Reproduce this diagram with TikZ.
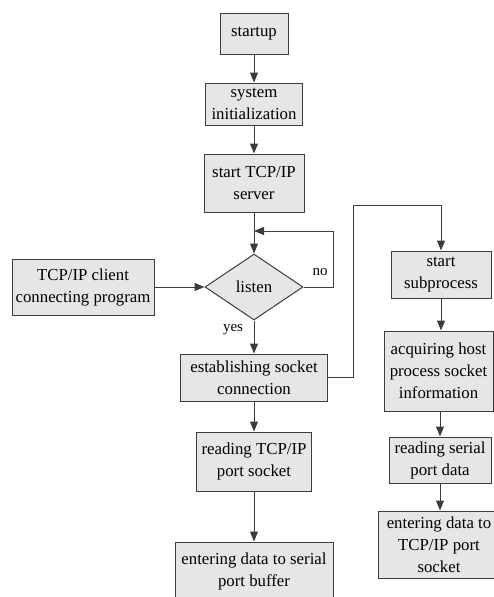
\documentclass[tikz,border=0pt]{standalone}
\usepackage{fontspec}
\setmainfont{Liberation Serif}
\usetikzlibrary{arrows.meta,shapes.geometric}
\definecolor{boxfill}{HTML}{E6E6E6}
\definecolor{boxline}{HTML}{3C3C3C}
\begin{document}
\begin{tikzpicture}[x=1pt,y=-1pt,
  box/.style={draw=boxline,fill=boxfill,line width=1pt,inner sep=0pt,align=center,
              font=\fontsize{16.8}{22}\selectfont},
  decide/.style={diamond,draw=boxline,fill=boxfill,line width=1pt,inner sep=0pt,
              font=\fontsize{16.8}{22}\selectfont},
  link/.style={draw=boxline,line width=1pt},
  arr/.style={link,-{Triangle[length=10pt,width=8pt]}},
  lbl/.style={font=\fontsize{15}{18}\selectfont,inner sep=0pt}]
\useasboundingbox (0,0) rectangle (494,597);

% left column
\node[box,minimum width=68pt,minimum height=41pt] (startup) at (254,33.5) {startup};
\node[box,minimum width=97pt,minimum height=42pt] (init) at (254,104) {system\\initialization};
\node[box,minimum width=100pt,minimum height=58pt] (server) at (254,183) {start TCP/IP\\server};
\node[decide,minimum width=98pt,minimum height=66pt] (listen) at (254,287) {listen};
\node[box,minimum width=142pt,minimum height=56pt] (client) at (83,287) {TCP/IP client\\connecting program};
\node[box,minimum width=147pt,minimum height=47pt] (est) at (254,377.5) {establishing socket\\connection};
\node[box,minimum width=115pt,minimum height=59pt] (readtcp) at (254,461.5) {reading TCP/IP\\port socket};
\node[box,minimum width=158pt,minimum height=58pt] (entser) at (254,571) {entering data to serial\\port buffer};

% right column
\node[box,minimum width=100pt,minimum height=47pt] (sub) at (441,274.5) {start\\subprocess};
\node[box,minimum width=109pt,minimum height=80pt] (acq) at (438.5,371) {acquiring host\\process socket\\information};
\node[box,minimum width=102pt,minimum height=46pt] (rser) at (440,460) {reading serial\\port data};
\node[box,minimum width=122pt,minimum height=67pt] (enttcp) at (439,544.5) {entering data to\\TCP/IP port\\socket};

% labels
\node[lbl] (nolbl) at (320,272) {no};
\node[lbl] (yeslbl) at (233,330) {yes};

% connectors
\draw[arr] (startup) -- (init);
\draw[arr] (init) -- (server);
\draw[arr] (server.south) -- (listen.north);
\coordinate (loopcorner) at (333,231);
\draw[arr] (listen.east) -| (loopcorner) -- (server.south |- loopcorner);
\draw[arr] (client.east) -- (listen.west);
\draw[arr] (listen.south) -- (est.north);
\draw[arr] (est) -- (readtcp);
\draw[arr] (readtcp) -- (entser);
\coordinate (jog) at (353,205);
\draw[arr] (est.east) -| (jog) -| (sub.north);
\draw[arr] (sub.south) -- (sub.south |- acq.north);
\draw[arr] (rser.north |- acq.south) -- (rser.north);
\draw[arr] (rser.south) -- (rser.south |- enttcp.north);
\end{tikzpicture}
\end{document}
